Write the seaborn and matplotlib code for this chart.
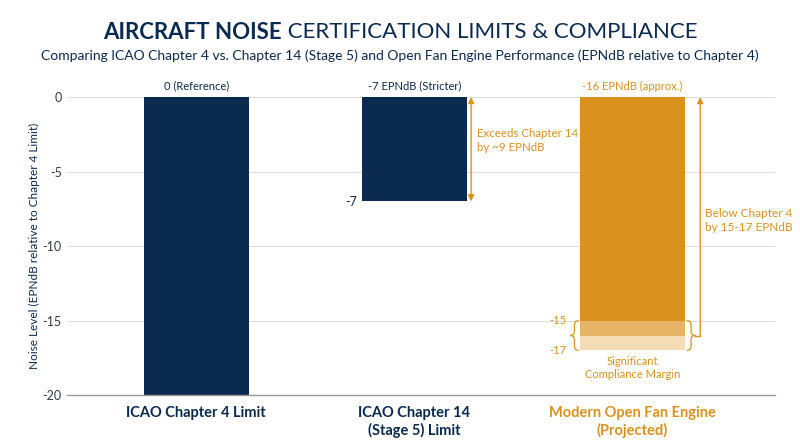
import numpy as np
import pandas as pd
import seaborn as sns
import matplotlib.pyplot as plt
from matplotlib.path import Path
from matplotlib.patches import PathPatch

# chart values
categories = ["ICAO Chapter 4 Limit", "ICAO Chapter 14\n(Stage 5) Limit", "Modern Open Fan Engine\n(Projected)"]
bar_values = [-20, -7, -15]
top_labels = ["0 (Reference)", "-7 EPNdB (Stricter)", "-16 EPNdB (approx.)"]
fan_margin = [-15, -16, -17]
y_ticks = [0, -5, -10, -15, -20]

NAVY = "#0b2a4f"
ORANGE = "#d9921e"
MID = "#e6b467"
LIGHT = "#f3dcb6"
GRID = "#dedede"

sns.set_theme(style="white")
plt.rcParams['font.family'] = ['Lato', 'DejaVu Sans']

fig = plt.figure(figsize=(8, 4.47), dpi=100)
ax = fig.add_axes([0.084, 0.116, 0.885, 0.667])

bar_kw = dict(order=categories, width=0.48, saturation=1, linewidth=0, ax=ax)

# margin bands behind the main orange bar
light_df = pd.DataFrame({"cat": [categories[2]], "val": [fan_margin[2]]})
mid_df = pd.DataFrame({"cat": [categories[2]], "val": [fan_margin[1]]})
sns.barplot(data=light_df, x="cat", y="val", color=LIGHT, **bar_kw)
sns.barplot(data=mid_df, x="cat", y="val", color=MID, **bar_kw)

df = pd.DataFrame({"cat": categories, "val": bar_values})
sns.barplot(data=df, x="cat", y="val", hue="cat", palette=[NAVY, NAVY, ORANGE],
            legend=False, **bar_kw)

ax.set_xlim(-0.592, 2.656)
ax.set_ylim(-20, 0)
ax.set_yticks(y_ticks)
ax.set_yticklabels([str(t) for t in y_ticks], fontsize=9, color="#333a45")
for t in y_ticks[:-1]:
    ax.axhline(t, color=GRID, lw=0.8, zorder=0)
for s in ["top", "right", "left"]:
    ax.spines[s].set_visible(False)
ax.spines["bottom"].set_color("#9a9a9a")
ax.spines["bottom"].set_linewidth(1)
ax.tick_params(axis="y", length=0, pad=4)
ax.tick_params(axis="x", length=0, pad=8)
ax.set_xlabel("")
ax.set_ylabel("Noise Level (EPNdB relative to Chapter 4 Limit)", fontsize=8.5, color=NAVY)
ax.yaxis.set_label_coords(-0.038, 0.5)
ax.set_xticks(range(3))
ax.set_xticklabels(categories, fontsize=10.5, fontweight="bold", linespacing=1.2)
for lab, c in zip(ax.get_xticklabels(), [NAVY, NAVY, ORANGE]):
    lab.set_color(c)

# labels above the bars
for i, txt in enumerate(top_labels):
    ax.text(i, 0.35, txt, ha="center", va="bottom", fontsize=8,
            color=ORANGE if i == 2 else NAVY)

ax.text(0.74, bar_values[1] - 0.05, "-7", ha="right", va="center", fontsize=9, color=NAVY)

# double arrow next to the chapter 14 bar
ax.annotate("", xy=(1.261, 0), xytext=(1.261, bar_values[1]),
            arrowprops=dict(arrowstyle="<|-|>", color=ORANGE, lw=1, mutation_scale=9,
                            shrinkA=0, shrinkB=0))
ax.text(1.289, -2.9, "Exceeds Chapter 14\nby ~9 EPNdB", ha="left", va="center",
        fontsize=8.3, color=ORANGE, linespacing=1.3)


def brace(ax, x, ytop, ybot, w, color):
    ym = (ytop + ybot) / 2
    r = 0.3
    verts = [(x, ytop), (x + w / 2, ytop), (x + w / 2, ytop - r),
             (x + w / 2, ym + r), (x + w / 2, ym), (x + w, ym),
             (x + w / 2, ym), (x + w / 2, ym - r),
             (x + w / 2, ybot + r), (x + w / 2, ybot), (x, ybot)]
    codes = [Path.MOVETO, Path.CURVE3, Path.CURVE3,
             Path.LINETO, Path.CURVE3, Path.CURVE3,
             Path.CURVE3, Path.CURVE3,
             Path.LINETO, Path.CURVE3, Path.CURVE3]
    ax.add_patch(PathPatch(Path(verts, codes), fill=False, ec=color, lw=0.9, clip_on=False))


brace(ax, 2.25, fan_margin[0], fan_margin[2], 0.04, ORANGE)
brace(ax, 1.755, fan_margin[0], fan_margin[2], -0.04, ORANGE)
ax.text(1.7, fan_margin[0], "-15", ha="right", va="center", fontsize=8, color=ORANGE)
ax.text(1.7, fan_margin[2], "-17", ha="right", va="center", fontsize=8, color=ORANGE)
ax.text(2, fan_margin[2] - 0.35, "Significant\nCompliance Margin", ha="center", va="top",
        fontsize=8, color=ORANGE, linespacing=1.3)

# arrow from the margin up to chapter 4
ax.plot([2.29, 2.312], [fan_margin[1], fan_margin[1]], color=ORANGE, lw=1)
ax.annotate("", xy=(2.312, 0), xytext=(2.312, fan_margin[1]),
            arrowprops=dict(arrowstyle="-|>", color=ORANGE, lw=1, mutation_scale=9,
                            shrinkA=0, shrinkB=0))
ax.text(2.335, -8.3, "Below Chapter 4\nby 15-17 EPNdB", ha="left", va="center",
        fontsize=8.5, color=ORANGE, linespacing=1.3)

# title in two weights, centred together
renderer = fig.canvas.get_renderer()
t1 = fig.text(0, 0.928, "AIRCRAFT NOISE", fontsize=16, fontweight="bold", color=NAVY, va="center")
t2 = fig.text(0, 0.928, " CERTIFICATION LIMITS & COMPLIANCE", fontsize=16, color=NAVY, va="center")
w1 = t1.get_window_extent(renderer).width / fig.bbox.width
w2 = t2.get_window_extent(renderer).width / fig.bbox.width
x0 = 0.5 - (w1 + w2) / 2
t1.set_x(x0)
t2.set_x(x0 + w1)
fig.text(0.5, 0.876, "Comparing ICAO Chapter 4 vs. Chapter 14 (Stage 5) and Open Fan Engine Performance (EPNdB relative to Chapter 4)",
         ha="center", va="center", fontsize=10, color=NAVY)

fig.savefig("out.png", dpi=100, facecolor="white")
